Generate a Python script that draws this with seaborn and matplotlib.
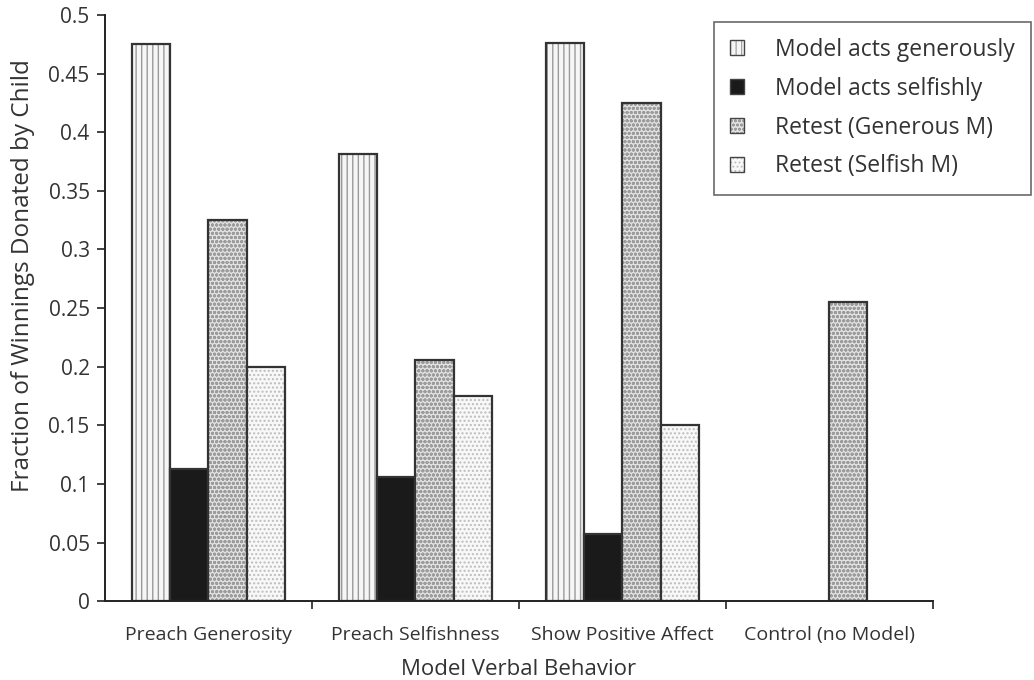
import numpy as np
import pandas as pd
import matplotlib
matplotlib.use("Agg")
import matplotlib.pyplot as plt
import matplotlib.colors as mcolors
from matplotlib.patches import Patch
import seaborn as sns

categories = ["Preach Generosity", "Preach Selfishness", "Show Positive Affect", "Control (no Model)"]
series_names = ["Model acts generously", "Model acts selfishly", "Retest (Generous M)", "Retest (Selfish M)"]
model_generous = [0.475, 0.381, 0.476, np.nan]
model_selfish = [0.113, 0.106, 0.057, np.nan]
retest_generous = [0.325, 0.206, 0.425, 0.255]
retest_selfish = [0.200, 0.175, 0.150, np.nan]
y_ticks = [0, 0.05, 0.1, 0.15, 0.2, 0.25, 0.3, 0.35, 0.4, 0.45, 0.5]
y_tick_labels = ["0", "0.05", "0.1", "0.15", "0.2", "0.25", "0.3", "0.35", "0.4", "0.45", "0.5"]

rows = []
for name, vals in zip(series_names, [model_generous, model_selfish, retest_generous, retest_selfish]):
    for c, v in zip(categories, vals):
        rows.append({"Behavior": c, "Series": name, "Value": v})
df = pd.DataFrame(rows).dropna()

sns.set_style("white")
plt.rcParams["font.family"] = ["Open Sans", "DejaVu Sans"]

styles = [
    dict(face="#f6f6f6", hatch="|||", hcolor="#9a9a9a"),
    dict(face="#1a1a1a", hatch="", hcolor="#1a1a1a"),
    dict(face="#e2e2e2", hatch="oooo", hcolor="#9c9c9c"),
    dict(face="#f8f8f8", hatch="....", hcolor="#bdbdbd"),
]

fig = plt.figure(figsize=(10.34, 6.8), dpi=100)
ax = fig.add_axes([0.1015, 0.116, 0.8005, 0.862])

sns.barplot(data=df, x="Behavior", y="Value", hue="Series", order=categories,
            hue_order=series_names, errorbar=None, width=0.74, ax=ax, legend=False)

plt.rcParams["hatch.linewidth"] = 0.8
for cont, st in zip(ax.containers, styles):
    for p in cont.patches:
        p.set_facecolor(st["face"])
        p.set_edgecolor("#333333")
        p.set_linewidth(1.6)
        p.set_hatch(st["hatch"])
        p._hatch_color = mcolors.to_rgba(st["hcolor"])

ax.set_ylim(0, 0.5)
ax.set_xlim(-0.5, 3.5)
ax.set_yticks(y_ticks)
ax.set_yticklabels(y_tick_labels)
ax.set_xticks(range(len(categories)))
ax.set_xticklabels(categories)
ax.set_xticks([0.5, 1.5, 2.5, 3.5], minor=True)
ax.tick_params(axis="x", which="major", length=0, pad=18, labelsize=14, colors="#333333")
ax.tick_params(axis="x", which="minor", length=6, width=1.2, direction="out", color="#222222", bottom=True)
ax.tick_params(axis="y", length=6, width=1.2, direction="out", left=True, labelsize=15,
               colors="#333333", pad=5)
ax.tick_params(axis="y", color="#222222")

for s in ["top", "right"]:
    ax.spines[s].set_visible(False)
for s in ["left", "bottom"]:
    ax.spines[s].set_color("#222222")
    ax.spines[s].set_linewidth(1.4)

ax.set_xlabel("Model Verbal Behavior", fontsize=16, color="#333333", labelpad=11)
ax.set_ylabel("Fraction of Winnings Donated by Child", fontsize=17.5, color="#333333", labelpad=6)
ax.yaxis.set_label_coords(-0.085, 0.556)

handles = []
for name, st in zip(series_names, styles):
    h = Patch(facecolor=st["face"], edgecolor="#444444", hatch=st["hatch"], linewidth=1.0, label=name)
    handles.append(h)
leg = fig.legend(handles=handles, loc="upper right", bbox_to_anchor=(0.997, 0.968),
                 frameon=True, fancybox=False, fontsize=16.5, handlelength=0.6, handleheight=0.6,
                 handletextpad=1.35, labelspacing=0.65, borderpad=0.7, borderaxespad=0.0,
                 edgecolor="#444444", labelcolor="#333333")
leg.get_frame().set_linewidth(1.2)
for lh, st in zip(leg.legend_handles, styles):
    lh._hatch_color = mcolors.to_rgba(st["hcolor"])

fig.savefig("out.png", dpi=100)
